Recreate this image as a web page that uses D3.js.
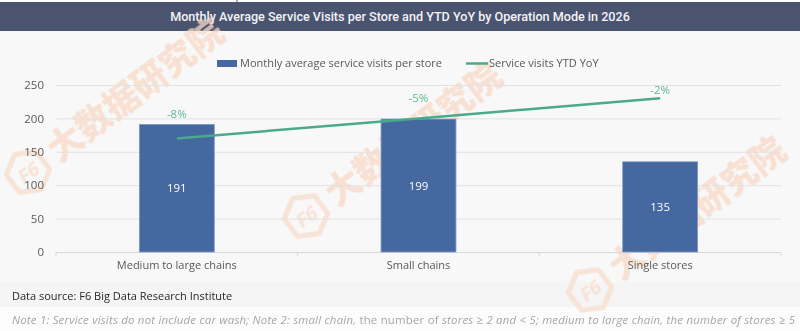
<!DOCTYPE html>
<html>
<head>
<meta charset="utf-8">
<script src="https://cdn.jsdelivr.net/npm/d3@7/dist/d3.min.js"></script>
<style>
  html, body { margin: 0; padding: 0; background: #ffffff; }
  svg { display: block; font-family: "Open Sans", "Noto Sans", sans-serif; }
</style>
</head>
<body>
<svg id="chart" width="800" height="331"></svg>
<script>
// Chart data
const categories = ["Medium to large chains", "Small chains", "Single stores"];
const avgVisits = [191, 199, 135];
const yoyPct = [-8, -5, -2];
const yTicks = [0, 50, 100, 150, 200, 250];

const titleText = "Monthly Average Service Visits per Store and YTD YoY by Operation Mode in 2026";
const barLegend = "Monthly average service visits per store";
const lineLegend = "Service visits YTD YoY";
const sourceText = "Data source: F6 Big Data Research Institute";

// Layout
const W = 800, H = 331;
const plot = { left: 56, right: 781, top: 85, bottom: 252 };
const yoyLabelDy = [-24, -20, -8];
const blue = "#44689f", green = "#4aab8b", greenText = "#5db897";

const svg = d3.select("#chart");

// Backgrounds
svg.append("rect").attr("width", W).attr("height", H).attr("fill", "#ffffff");
svg.append("rect").attr("x", 0).attr("y", 31).attr("width", W).attr("height", 251).attr("fill", "#f8f8f8");
svg.append("rect").attr("x", 0).attr("y", 282).attr("width", W).attr("height", 25).attr("fill", "#f5f5f5");
svg.append("rect").attr("x", 0).attr("y", 307).attr("width", W).attr("height", 24).attr("fill", "#fcfcfc");

// Title bar
svg.append("rect").attr("x", 0).attr("y", 2).attr("width", W).attr("height", 29).attr("fill", "#4b546f");
svg.append("line").attr("x1", 237).attr("x2", 237).attr("y1", 0).attr("y2", 2)
  .attr("stroke", "#4b546f").attr("stroke-width", 1);
svg.append("text")
  .attr("x", W / 2).attr("y", 17).attr("dy", "0.35em")
  .attr("text-anchor", "middle")
  .attr("fill", "#f2f3f6")
  .style("font-family", "Roboto, sans-serif")
  .style("font-size", "12.6px").style("font-weight", 500)
  .text(titleText);

// Watermark logos
function watermark(g) {
  g.append("path")
    .attr("d", "M0,-22 L19,-11 L19,11 L0,22 L-19,11 L-19,-11 Z")
    .attr("fill", "none").attr("stroke", "#f8dccc").attr("stroke-width", 5)
    .attr("stroke-linejoin", "round");
  g.append("text").attr("x", 0).attr("y", 1).attr("dy", "0.35em")
    .attr("text-anchor", "middle")
    .attr("fill", "#f8dccc").style("font-size", "20px").style("font-weight", 700)
    .style("font-style", "italic").text("F6");
  g.append("text").attr("x", 30).attr("y", 0).attr("dy", "0.35em")
    .attr("fill", "#f8d8c6")
    .style("font-family", "'Noto Sans CJK SC', sans-serif")
    .style("font-size", "35px").style("font-weight", 900)
    .text("大数据研究院");
}
const marks = svg.append("g").attr("opacity", 0.75);
[[28, 172], [306, 216], [590, 290]].forEach(([x, y]) => {
  marks.append("g").attr("transform", `translate(${x},${y}) rotate(-37)`).call(watermark);
});

// Scales
const x = d3.scaleBand().domain(categories).range([plot.left, plot.right]);
const y = d3.scaleLinear().domain([0, 250]).range([plot.bottom, plot.top]);
const y2 = d3.scaleLinear().domain([-25, 0]).range([plot.bottom, plot.top]);
const barW = x.bandwidth() * 0.31;

// Gridlines and y labels
const yAxis = svg.append("g")
  .attr("transform", `translate(${plot.left},0)`)
  .call(d3.axisLeft(y).tickValues(yTicks).tickSize(-(plot.right - plot.left)).tickPadding(12));
yAxis.select(".domain").remove();
yAxis.selectAll(".tick line").attr("stroke", d => d === 0 ? "#d9d9d9" : "#e2e2e2");
yAxis.selectAll(".tick text")
  .attr("fill", "#595959").style("font-size", "11.5px")
  .style("font-family", "'Open Sans', sans-serif");

// Category axis
const xAxis = svg.append("g")
  .attr("transform", `translate(0,${plot.bottom})`)
  .call(d3.axisBottom(x).tickSize(0).tickPadding(9));
xAxis.select(".domain").remove();
xAxis.selectAll(".tick text")
  .attr("fill", "#595959").style("font-size", "11px")
  .style("font-family", "'Open Sans', sans-serif");
const bounds = categories.map(c => x(c)).concat([x.range()[1]]);
svg.append("g").selectAll("line").data(bounds).join("line")
  .attr("x1", d => d).attr("x2", d => d)
  .attr("y1", plot.bottom).attr("y2", plot.bottom + 4)
  .attr("stroke", "#d9d9d9");

// Bars
const bars = categories.map((c, i) => ({ c, v: avgVisits[i] }));
svg.append("g").selectAll("rect").data(bars).join("rect")
  .attr("x", d => x(d.c) + (x.bandwidth() - barW) / 2)
  .attr("y", d => y(d.v))
  .attr("width", barW)
  .attr("height", d => y(0) - y(d.v))
  .attr("fill", blue)
  .attr("stroke", "#7f9bc4").attr("stroke-width", 0.8);

svg.append("g").selectAll("text").data(bars).join("text")
  .attr("x", d => x(d.c) + x.bandwidth() / 2)
  .attr("y", d => (y(d.v) + y(0)) / 2)
  .attr("dy", "0.35em")
  .attr("text-anchor", "middle")
  .attr("fill", "#ffffff").style("font-size", "11.5px")
  .text(d => d.v);

// YoY line
const pts = categories.map((c, i) => ({ c, v: yoyPct[i], dy: yoyLabelDy[i] }));
svg.append("path")
  .datum(pts)
  .attr("fill", "none").attr("stroke", green).attr("stroke-width", 2.5)
  .attr("d", d3.line().x(d => x(d.c) + x.bandwidth() / 2).y(d => y2(d.v)));

svg.append("g").selectAll("text").data(pts).join("text")
  .attr("x", d => x(d.c) + x.bandwidth() / 2)
  .attr("y", d => y2(d.v) + d.dy)
  .attr("dy", "0.35em")
  .attr("text-anchor", "middle")
  .attr("fill", greenText).style("font-size", "11.5px")
  .text(d => `${d.v}%`);

// Legend
const legend = svg.append("g").style("font-size", "11px").attr("fill", "#595959");
legend.append("rect").attr("x", 217).attr("y", 60).attr("width", 20).attr("height", 7).attr("fill", blue);
legend.append("text").attr("x", 240).attr("y", 63.5).attr("dy", "0.35em").text(barLegend);
legend.append("line").attr("x1", 466).attr("x2", 488).attr("y1", 63.5).attr("y2", 63.5)
  .attr("stroke", green).attr("stroke-width", 2.5);
legend.append("text").attr("x", 489).attr("y", 63.5).attr("dy", "0.35em").text(lineLegend);

// Footer
svg.append("text").attr("x", 12).attr("y", 296).attr("dy", "0.35em")
  .attr("fill", "#262626").style("font-size", "11px").text(sourceText);

const note = svg.append("text").attr("x", 12).attr("y", 320).attr("dy", "0.35em")
  .attr("fill", "#a6a6a6").style("font-size", "11.4px")
  .attr("textLength", 783).attr("lengthAdjust", "spacing");
const noteParts = [
  ["Note 1: Service visits do not include car wash; Note 2: small chain,", true],
  [" the number of ", false],
  ["stores \u2265 2 and < 5; medium to large chain, the number of stores \u2265 5", true]
];
noteParts.forEach(([t, it]) => {
  note.append("tspan").style("font-style", it ? "italic" : "normal").text(t);
});
</script>
</body>
</html>
